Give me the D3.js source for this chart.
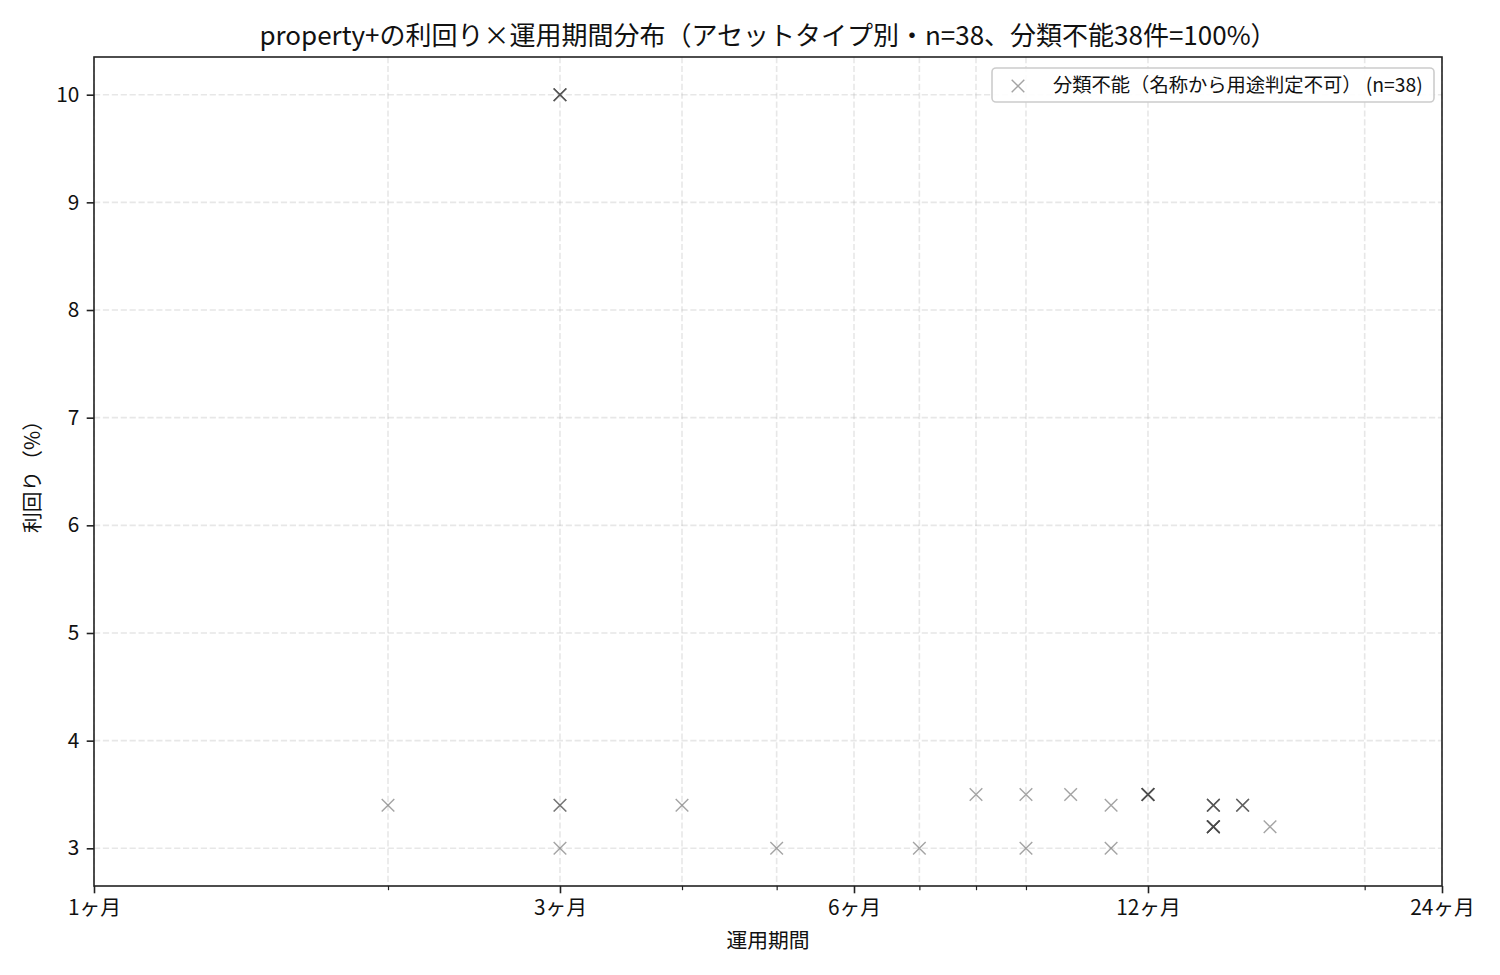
<!DOCTYPE html>
<html><head><meta charset="utf-8">
<script src="https://cdn.jsdelivr.net/npm/d3@7"></script>
<style>
body{margin:0;background:#fff;}
text{font-family:"Noto Sans CJK JP","Noto Sans",sans-serif;}
</style>
</head><body>
<svg id="chart" width="1500" height="975"></svg>
<script>
// ---- data ----
const periodMonths = [2, 3,3,3,3, 3,3, 3, 4, 5, 7, 8, 9, 9, 10, 11, 11,
  12,12,12,12,12,12, 14,14,14,14, 14,14,14,14,14,14,14, 15,15,15, 16];
const yieldPct = [3.4, 10,10,10,10, 3.4,3.4, 3.0, 3.4, 3.0, 3.0, 3.5, 3.5, 3.0, 3.5, 3.4, 3.0,
  3.5,3.5,3.5,3.5,3.5,3.5, 3.4,3.4,3.4,3.4, 3.2,3.2,3.2,3.2,3.2,3.2,3.2, 3.4,3.4,3.4, 3.2];
const xMajorTicks = [1, 3, 6, 12, 24];
const xTickLabels = ["1ヶ月", "3ヶ月", "6ヶ月", "12ヶ月", "24ヶ月"];
const xMinorTicks = [2, 4, 5, 7, 8, 9, 20];
const yTicks = [3, 4, 5, 6, 7, 8, 9, 10];
const titleText = "property+の利回り×運用期間分布（アセットタイプ別・n=38、分類不能38件=100%）";
const xLabelText = "運用期間";
const yLabelText = "利回り（%）";
const legendText = "分類不能（名称から用途判定不可） (n=38)";

// ---- layout ----
const svg = d3.select("#chart");
const L = 94, R = 1442, T = 57, B = 886;
const x = d3.scaleLog().domain([1, 24]).range([L, R]);
const y = d3.scaleLinear().domain([2.65, 10.35]).range([B, T]);
const tickPad = 7.3, majorLen = 7.3, minorLen = 4.2;

svg.append("rect").attr("width", 1500).attr("height", 975).attr("fill", "#fff");

// grid
const gridX = xMajorTicks.concat(xMinorTicks);
const grid = svg.append("g").attr("stroke", "#b0b0b0").attr("stroke-opacity", 0.3)
  .attr("stroke-width", 1.6).attr("stroke-dasharray", "6.2,2.7");
grid.selectAll("line.gx").data(gridX).join("line").attr("class", "gx")
  .attr("x1", d => x(d)).attr("x2", d => x(d)).attr("y1", T).attr("y2", B);
grid.selectAll("line.gy").data(yTicks).join("line").attr("class", "gy")
  .attr("x1", L).attr("x2", R).attr("y1", d => y(d)).attr("y2", d => y(d));

// points
const pts = periodMonths.map((m, i) => ({m, v: yieldPct[i]}));
const ms = 6.3;
const markPath = `M${-ms},${-ms}L${ms},${ms}M${-ms},${ms}L${ms},${-ms}`;
svg.append("g").selectAll("path").data(pts).join("path")
  .attr("transform", d => `translate(${x(d.m)},${y(d.v)})`)
  .attr("d", markPath).attr("fill", "none")
  .attr("stroke", "#4a4a4a").attr("stroke-opacity", 0.5).attr("stroke-width", 1.4);

// axes
const axX = svg.append("g").attr("transform", `translate(0,${B})`)
  .call(d3.axisBottom(x).tickValues(xMajorTicks).tickFormat((d, i) => xTickLabels[i])
    .tickSize(majorLen).tickPadding(tickPad));
const axXm = svg.append("g").attr("transform", `translate(0,${B})`)
  .call(d3.axisBottom(x).tickValues(xMinorTicks).tickFormat("").tickSize(minorLen));
const axY = svg.append("g").attr("transform", `translate(${L},0)`)
  .call(d3.axisLeft(y).tickValues(yTicks).tickFormat(d3.format("d"))
    .tickSize(majorLen).tickPadding(tickPad));
[axX, axXm, axY].forEach(a => {
  a.select(".domain").remove();
  a.selectAll(".tick line").attr("stroke", "#222").attr("stroke-width", 1.6);
  a.selectAll(".tick text").attr("fill", "#111").style("font-size", "20.8px")
    .style("font-family", '"Noto Sans CJK JP","Noto Sans",sans-serif');
});
axXm.selectAll(".tick line").attr("stroke-width", 1.2);

// spines
svg.append("rect").attr("x", L).attr("y", T).attr("width", R - L).attr("height", B - T)
  .attr("fill", "none").attr("stroke", "#222").attr("stroke-width", 1.6);

// title & labels
svg.append("text").attr("x", (L + R) / 2).attr("y", 45).attr("text-anchor", "middle")
  .style("font-size", "26px").attr("fill", "#111").text(titleText);
svg.append("text").attr("x", (L + R) / 2).attr("y", 948).attr("text-anchor", "middle")
  .style("font-size", "20.8px").attr("fill", "#111").text(xLabelText);
svg.append("text").attr("transform", `translate(40,${(T + B) / 2}) rotate(-90)`)
  .attr("text-anchor", "middle").style("font-size", "20.8px").attr("fill", "#111").text(yLabelText);

// legend
const lg = svg.append("g");
lg.append("rect").attr("x", 992).attr("y", 68).attr("width", 442).attr("height", 34)
  .attr("rx", 4).attr("fill", "#fff").attr("fill-opacity", 0.9)
  .attr("stroke", "#cccccc").attr("stroke-width", 1.6);
lg.append("path").attr("transform", "translate(1018,86)").attr("d", markPath)
  .attr("fill", "none").attr("stroke", "#4a4a4a").attr("stroke-opacity", 0.5).attr("stroke-width", 1.4);
lg.append("text").attr("x", 1053).attr("y", 92).style("font-size", "19.3px")
  .attr("fill", "#111").text(legendText);
</script>
</body></html>
